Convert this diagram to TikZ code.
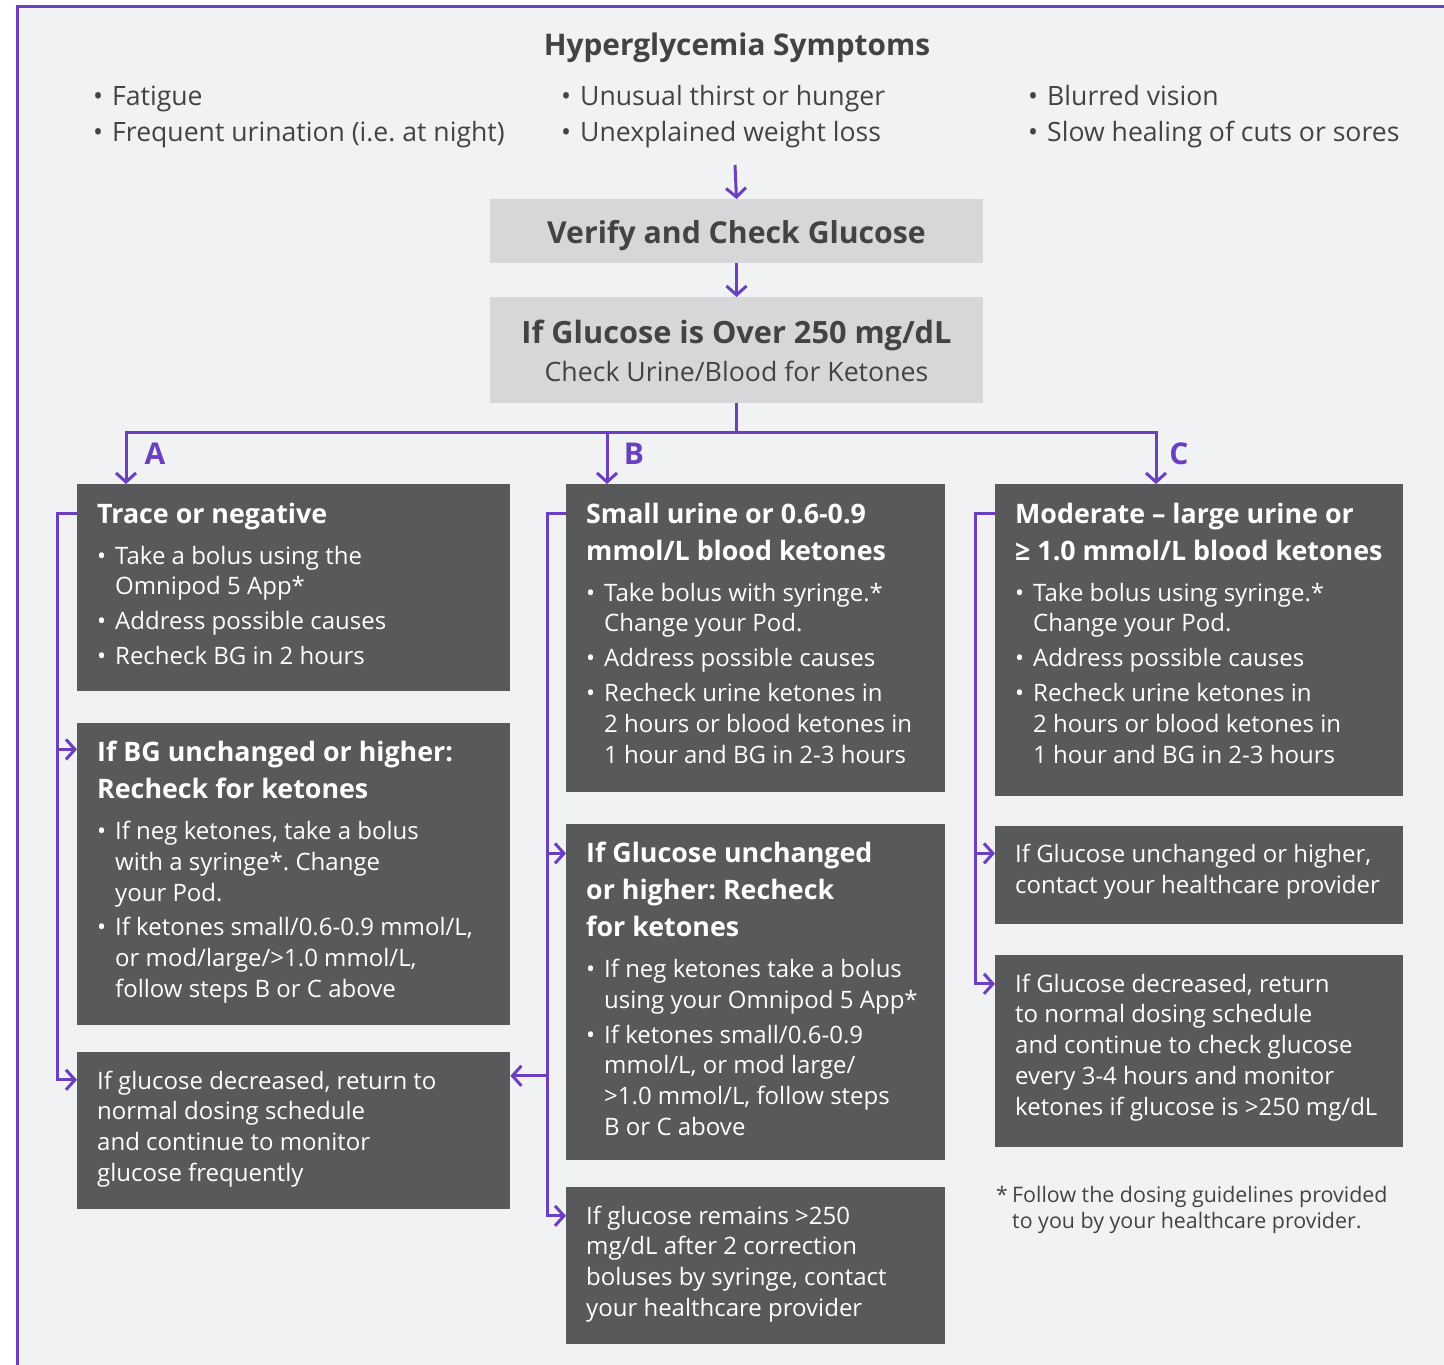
\documentclass[tikz,border=0pt]{standalone}
\usepackage{fontspec}
\setmainfont{Open Sans}
\usepackage{xcolor}
\usetikzlibrary{positioning, arrows.meta}

\definecolor{pagegray}{HTML}{F1F2F4}
\definecolor{boxgray}{HTML}{58595B}
\definecolor{lightbox}{HTML}{D6D7D9}
\definecolor{inkgray}{HTML}{434345}
\definecolor{purp}{HTML}{6A3FC2}

% box title and bullet items
\newcommand{\ttl}[1]{{\bfseries\fontsize{26.8}{37}\selectfont #1\par}\vspace{6pt}}
\newcommand{\itm}[1]{\par\vspace{4pt}{\let\\\newline\hangindent=18pt\hangafter=1\noindent\makebox[18pt][l]{•}#1\par}}

\begin{document}
\frenchspacing
\begin{tikzpicture}[x=1pt, y=-1pt,
    every node/.style={inner sep=0pt},
    darkbox/.style={fill=boxgray, text=white, anchor=north west, align=flush left, inner xsep=20pt, inner ysep=0pt, font=\fontsize{24}{30.8}\selectfont, text height=39pt, text depth={#1pt-39pt}},
    plainbox/.style={darkbox=#1, text height=37pt, text depth={#1pt-37pt}},
    lightbx/.style={fill=lightbox, text=inkgray, align=flush center, inner xsep=0pt, text width=493pt},
    symlist/.style={anchor=base west, align=flush left, text width=440pt, text=inkgray, font=\fontsize{26.6}{36}\selectfont},
    branch/.style={text=purp, font=\bfseries\fontsize{30}{36}\selectfont},
    conn/.style={draw=purp, line width=3pt},
    arr/.style={conn, -{Straight Barb[length=9pt, width=20pt]}}
]
    \useasboundingbox (0,0) rectangle (1444,1365);
    \fill[white] (0,0) rectangle (1444,1365);
    \fill[pagegray] (17,6) rectangle (1444,1365);
    \draw[purp, line width=3pt] (17,1365) -- (17,6) -- (1444,6);

    % Symptoms
    \node[anchor=base, text=inkgray, font=\bfseries\fontsize{29.8}{34}\selectfont] (head) at (737,55.5) {Hyperglycemia Symptoms};
    \node[symlist] (sym1) at (93,105.5) {\makebox[19pt][l]{•}Fatigue\\\makebox[19pt][l]{•}Frequent urination (i.e. at night)};
    \node[symlist] (sym2) at (561,105.5) {\makebox[19pt][l]{•}Unusual thirst or hunger\\\makebox[19pt][l]{•}Unexplained weight loss};
    \node[symlist, text width=400pt] (sym3) at (1028,105.5) {\makebox[19pt][l]{•}Blurred vision\\\makebox[19pt][l]{•}Slow healing of cuts or sores};
    \coordinate (symbot) at (735,165);

    % Checks
    \node[lightbx, anchor=north, text height=44.5pt, text depth=19.5pt, font=\bfseries\fontsize{30.2}{36}\selectfont] (verify) at (736.5,199) {Verify and Check Glucose};
    \node[lightbx, anchor=north, text height=46.5pt, text depth=59.5pt] (over) at (736.5,297) {{\bfseries\fontsize{30.7}{38}\selectfont If Glucose is Over 250 mg/dL\par}{\fontsize{26.7}{38}\selectfont Check Urine/Blood for Ketones\par}};

    % Column A
    \node[darkbox=207, text width=393pt] (trace) at (77,484) {\ttl{Trace or negative}\itm{Take a bolus using the\\Omnipod 5 App*}\itm{Address possible causes}\itm{Recheck BG in 2 hours}};
    \node[darkbox=302, text width=393pt, below=31pt of trace.south west, anchor=north west] (bgup) {\ttl{If BG unchanged or higher:\\Recheck for ketones}\itm{If neg ketones, take a bolus\\with a syringe*. Change\\your Pod.}\itm{If ketones small/0.6-0.9 mmol/L,\\or mod/large/>1.0 mmol/L,\\follow steps B or C above}};
    \node[plainbox=157, text width=393pt, below=27pt of bgup.south west, anchor=north west] (bgdown) {If glucose decreased, return to\\normal dosing schedule\\and continue to monitor\\glucose frequently};

    % Column B
    \node[darkbox=308, text width=339pt] (small) at (566,484) {\ttl{Small urine or 0.6-0.9\\mmol/L blood ketones}\itm{Take bolus with syringe.*\\Change your Pod.}\itm{Address possible causes}\itm{Recheck urine ketones in\\2 hours or blood ketones in\\1 hour and BG in 2-3 hours}};
    \node[darkbox=336, text width=339pt, below=31pt of small.south west, anchor=north west] (glup) {\ttl{If Glucose unchanged\\or higher: Recheck\\for ketones}\itm{If neg ketones take a bolus\\using your Omnipod 5 App*}\itm{If ketones small/0.6-0.9\\mmol/L, or mod large/\\>1.0 mmol/L, follow steps\\B or C above}};
    \node[plainbox=157, text width=339pt, below=27pt of glup.south west, anchor=north west] (remains) {If glucose remains >250\\mg/dL after 2 correction\\boluses by syringe, contact\\your healthcare provider};

    % Column C
    \node[darkbox=312, text width=368pt] (large) at (995,484) {\ttl{Moderate – large urine or\\≥ 1.0 mmol/L blood ketones}\itm{Take bolus using syringe.*\\Change your Pod.}\itm{Address possible causes}\itm{Recheck urine ketones in\\2 hours or blood ketones in\\1 hour and BG in 2-3 hours}};
    \node[plainbox=98, text width=368pt, below=29pt of large.south west, anchor=north west] (contact) {If Glucose unchanged or higher,\\contact your healthcare provider};
    \node[plainbox=192, text width=368pt, below=31pt of contact.south west, anchor=north west] (decr) {If Glucose decreased, return\\to normal dosing schedule\\and continue to check glucose\\every 3-4 hours and monitor\\ketones if glucose is >250 mg/dL};

    \node[anchor=base west, align=flush left, text width=430pt, text=inkgray, font=\fontsize{21.4}{26}\selectfont] (note) at (996,1202.5) {\makebox[16pt][l]{*}Follow the dosing guidelines provided\\\hspace*{16pt}to you by your healthcare provider.};

    % Flow
    \draw[arr] (symbot) -- (verify.north);
    \draw[arr] (verify.south) -- (over.north);
    \draw[conn] (over.south) -- ++(0pt,-29pt) coordinate (split);
    \draw[arr] (split) -| ([xshift=49pt]trace.north west);
    \draw[arr] (split) -| ([xshift=41pt]small.north west);
    \draw[arr] (split) -| ([xshift=161pt]large.north west);
    \node[branch] (labA) at (155,454) {A};
    \node[branch] (labB) at (634,454) {B};
    \node[branch] (labC) at (1179,454) {C};

    % Column A returns
    \draw[arr] ([yshift=-29pt]trace.north west) -- ++(-20pt,0pt) |- ([yshift=-28pt]bgdown.north west);
    \draw[arr] ([xshift=-20pt,yshift=-27pt]bgup.north west) -- ([yshift=-27pt]bgup.north west);

    % Column B returns
    \draw[arr] ([yshift=-29pt]small.north west) -- ++(-19pt,0pt) |- ([yshift=-29pt]remains.north west);
    \draw[arr] ([xshift=-19pt,yshift=-30pt]glup.north west) -- ([yshift=-30pt]glup.north west);
    \draw[arr] ([xshift=-19pt]glup.south west |- bgdown.north east) ++(0pt,-24pt) coordinate (bleft) -- (bleft -| bgdown.east);

    % Column C returns
    \draw[arr] ([yshift=-29pt]large.north west) -- ++(-20pt,0pt) |- ([yshift=-29pt]decr.north west);
    \draw[arr] ([xshift=-20pt,yshift=-28pt]contact.north west) -- ([yshift=-28pt]contact.north west);
\end{tikzpicture}
\end{document}
